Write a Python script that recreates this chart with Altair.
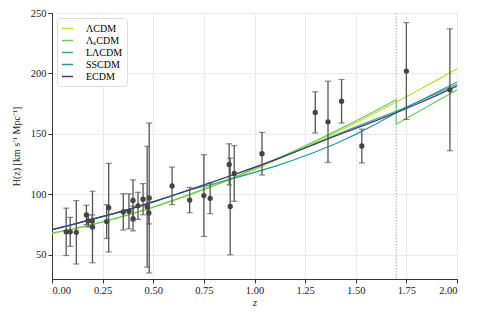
import altair as alt
import pandas as pd

# ---- model curves ----
z_grid = [0.0, 0.1, 0.2, 0.3, 0.4, 0.5, 0.6, 0.7, 0.8, 0.9, 1.0,
          1.1, 1.2, 1.3, 1.4, 1.5, 1.6, 1.7, 1.8, 1.9, 2.0]
h_lcdm = [67.7, 71.1, 75.0, 79.3, 84.0, 89.2, 94.8, 100.7, 107.0, 113.6, 120.5,
          127.8, 135.2, 143.0, 151.0, 159.3, 167.7, 176.4, 185.3, 194.5, 203.8]
z_lscdm = [0.0, 0.1, 0.2, 0.3, 0.4, 0.5, 0.6, 0.7, 0.8, 0.9, 1.0,
           1.1, 1.2, 1.3, 1.4, 1.5, 1.6, 1.7, 1.7, 1.8, 1.9, 2.0]
h_lscdm = [67.9, 71.3, 75.2, 79.5, 84.3, 89.5, 95.2, 101.2, 107.6, 114.3, 121.3,
           128.7, 136.2, 144.1, 152.3, 160.7, 169.3, 178.2, 158.0, 167.5, 177.0, 186.5]
h_llcdm = [70.8, 75.0, 79.5, 83.8, 88.6, 93.8, 99.3, 104.9, 110.6, 116.4, 122.3,
           128.5, 135.0, 142.0, 149.0, 155.8, 162.3, 168.6, 176.0, 183.5, 191.0]
h_sscdm = [70.8, 75.0, 79.5, 83.8, 88.6, 93.8, 99.3, 104.6, 108.8, 113.4, 118.2,
           123.2, 128.8, 135.0, 141.8, 149.6, 158.2, 167.5, 176.0, 184.5, 193.0]
h_ecdm = [70.8, 75.0, 79.5, 83.8, 88.6, 93.8, 99.3, 104.9, 110.6, 116.4, 122.3,
          128.5, 135.0, 141.7, 148.3, 154.6, 161.0, 167.5, 174.5, 181.9, 189.5]

model_names = ["ΛCDM", "ΛₛCDM", "LΛCDM", "SSCDM", "ECDM"]
model_colors = ["#c2df23", "#6ccd5a", "#35a883", "#23989a", "#453781"]

# ---- observational H(z) data ----
obs_z = [0.07, 0.09, 0.12, 0.17, 0.179, 0.199, 0.2, 0.27, 0.28, 0.352, 0.38,
         0.4, 0.4004, 0.4247, 0.4497, 0.47, 0.4783, 0.48, 0.593, 0.68, 0.75,
         0.781, 0.875, 0.88, 0.9, 1.037, 1.3, 1.363, 1.43, 1.53, 1.75, 1.965]
obs_h = [69.0, 69.0, 68.6, 83.0, 78.0, 78.0, 73.0, 77.5, 89.0, 85.5, 86.0,
         95.0, 80.0, 90.5, 96.0, 89.8, 84.6, 97.0, 107.0, 95.3, 99.0,
         96.7, 124.8, 90.0, 117.3, 133.6, 167.8, 160.0, 177.0, 140.0, 202.0, 186.5]
obs_err = [19.6, 12.0, 26.2, 8.0, 5.0, 5.0, 29.6, 14.0, 36.6, 15.0, 14.5,
           17.0, 10.2, 11.2, 12.9, 50.0, 9.0, 62.0, 15.5, 10.5, 33.8,
           12.7, 17.0, 40.0, 23.0, 17.6, 17.0, 33.6, 18.0, 14.0, 40.0, 50.4]

vline_z = [1.7]

x_ticks = [0.0, 0.25, 0.5, 0.75, 1.0, 1.25, 1.5, 1.75, 2.0]
y_ticks = [50, 75, 100, 125, 150, 175, 200, 225, 250]

# ---- build tables ----
rows = []
series = [
    (model_names[0], z_grid, h_lcdm),
    (model_names[1], z_lscdm, h_lscdm),
    (model_names[2], z_grid, h_llcdm),
    (model_names[3], z_grid, h_sscdm),
    (model_names[4], z_grid, h_ecdm),
]
for name, zs, hs in series:
    for i, (zv, hv) in enumerate(zip(zs, hs)):
        rows.append({"z": zv, "H": hv, "model": name, "idx": i})
lines_df = pd.DataFrame(rows)

obs_df = pd.DataFrame({"z": obs_z, "H": obs_h, "err": obs_err})
obs_df["lo"] = obs_df["H"] - obs_df["err"]
obs_df["hi"] = obs_df["H"] + obs_df["err"]

vline_df = pd.DataFrame({"z": vline_z})

FONT = "Liberation Serif"

x_scale = alt.Scale(domain=[0, 2], nice=False, zero=False)
y_scale = alt.Scale(domain=[30, 250], nice=False, zero=False)

x_axis = alt.Axis(values=x_ticks, format=".2f", title="z", titleFontStyle="italic",
                  titleFontWeight="normal", titlePadding=2)
y_axis = alt.Axis(values=y_ticks, title="H(z) [km s⁻¹ Mpc⁻¹]",
                  titleFontWeight="normal", titlePadding=9)

vline = alt.Chart(vline_df).mark_rule(color="#b0b0b0", strokeDash=[1.5, 1.5],
                                      strokeWidth=1).encode(
    x=alt.X("z:Q", scale=x_scale, axis=x_axis)
)

lines = alt.Chart(lines_df).mark_line(strokeWidth=1.2, clip=True).encode(
    x=alt.X("z:Q", scale=x_scale, axis=x_axis),
    y=alt.Y("H:Q", scale=y_scale, axis=y_axis),
    color=alt.Color("model:N",
                    scale=alt.Scale(domain=model_names, range=model_colors),
                    sort=model_names,
                    legend=alt.Legend(title=None, orient="top-left",
                                      symbolType="stroke", symbolStrokeWidth=1.5,
                                      symbolSize=120, labelFontSize=10,
                                      labelFont=FONT, rowPadding=0,
                                      offset=5, padding=4,
                                      strokeColor="#dddddd", fillColor="white",
                                      cornerRadius=3, labelOffset=12)),
    order="idx:Q",
)

bars = alt.Chart(obs_df).mark_rule(color="#555555", strokeWidth=1.3).encode(
    x="z:Q", y="lo:Q", y2="hi:Q"
)
cap_lo = alt.Chart(obs_df).mark_tick(color="#555555", orient="horizontal",
                                     size=6, thickness=1.2).encode(x="z:Q", y="lo:Q")
cap_hi = alt.Chart(obs_df).mark_tick(color="#555555", orient="horizontal",
                                     size=6, thickness=1.2).encode(x="z:Q", y="hi:Q")
points = alt.Chart(obs_df).mark_circle(color="#444444", opacity=1, size=28).encode(
    x="z:Q", y="H:Q"
)

chart = alt.layer(vline, lines, bars, cap_lo, cap_hi, points).properties(
    width=405, height=266,
    autosize=alt.AutoSizeParams(type="none"),
    padding={"left": 44, "top": 5, "right": 12, "bottom": 31},
).configure(font=FONT).configure_axis(
    labelFont=FONT, titleFont=FONT, labelFontSize=10.5, titleFontSize=10,
    labelColor="#222222", titleColor="#222222",
    grid=True, gridColor="#ebebeb", gridWidth=1,
    domainColor="#333333", tickColor="#333333", tickSize=4, labelPadding=2,
).configure_view(stroke="#555555", strokeWidth=1)

chart.save("out.html", embed_options={"renderer": "svg", "actions": False})
